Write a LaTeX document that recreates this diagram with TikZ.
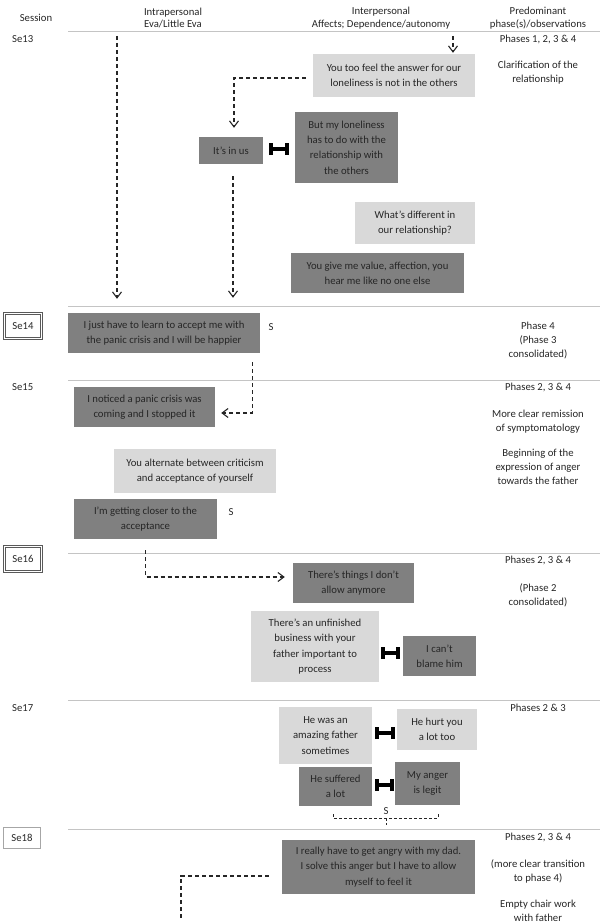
\documentclass[tikz,border=0pt]{standalone}
\usepackage{fontspec}
\setmainfont{Carlito}
\usetikzlibrary{arrows.meta,calc}
\definecolor{darkbox}{HTML}{808080}
\definecolor{lightbox}{HTML}{D9D9D9}
\definecolor{txt}{HTML}{262626}
\definecolor{rulec}{HTML}{C4C4C4}
\begin{document}
\begin{tikzpicture}[x=1pt,y=-1pt,
  every node/.style={font=\fontsize{10.7}{15.3}\selectfont, text=txt, inner sep=0pt},
  dbox/.style={fill=darkbox, align=center},
  lbox/.style={fill=lightbox, align=center},
  rcol/.style={align=center, anchor=north, font=\fontsize{10.7}{14}\selectfont},
  hdr/.style={align=center, font=\fontsize{10.7}{12.6}\selectfont},
  sessbox/.style={draw=black!65, double=white, double distance=1.3pt, line width=0.9pt, minimum width=37pt, minimum height=25pt},
  sessplain/.style={draw=black!35, line width=0.6pt, minimum width=37pt, minimum height=21pt},
  rowrule/.style={draw=rulec, line width=0.9pt},
  conn/.style={draw=txt, line width=1.1pt, dash pattern=on 4pt off 3pt},
  arr/.style={conn, -{Straight Barb[length=6pt,width=9pt]}},
  brk/.style={draw=txt, line width=0.7pt, dash pattern=on 3pt off 2pt},
  hbar/.style={draw=black, line width=4pt, {Bar[width=12pt]}-{Bar[width=12pt]}}
]
\useasboundingbox (0,0) rectangle (605,923);

% header
\node[hdr] (hsess) at (36,18) {Session};
\node[hdr] (hintra) at (173,18) {Intrapersonal\\Eva/Little Eva};
\node[hdr] (hinter) at (381,18) {Interpersonal\\Affects; Dependence/autonomy};
\node[hdr] (hphase) at (538,18) {Predominant\\phase(s)/observations};

% row rules
\coordinate (r0a) at (68,31.7); \coordinate (r0b) at (600,31.7);
\coordinate (r1a) at (68,306); \coordinate (r1b) at (600,306);
\coordinate (r2a) at (68,380); \coordinate (r2b) at (600,380);
\coordinate (r3a) at (68,553); \coordinate (r3b) at (600,553);
\coordinate (r4a) at (68,700); \coordinate (r4b) at (600,700);
\coordinate (r5a) at (68,829); \coordinate (r5b) at (600,829);
\draw[rowrule] (r0a) -- (r0b);
\draw[rowrule] (r1a) -- (r1b);
\draw[rowrule] (r2a) -- (r2b);
\draw[rowrule] (r3a) -- (r3b);
\draw[rowrule] (r4a) -- (r4b);
\draw[rowrule] (r5a) -- (r5b);

% session labels
\node[anchor=west] (se13) at (12,39.5) {Se13};
\node[sessbox] (se14) at (23,326) {Se14};
\node[anchor=west] (se15) at (12,387) {Se15};
\node[sessbox] (se16) at (23,559) {Se16};
\node[anchor=west] (se17) at (12,708) {Se17};
\node[sessplain] (se18) at (22,838) {Se18};

% right column
\node[rcol] (p13a) at (538,34.5) {Phases 1, 2, 3 \& 4};
\node[rcol] (p13b) at (538,60.5) {Clarification of the\\relationship};
\node[rcol] (p14a) at (538,321.5) {Phase 4\\(Phase 3\\consolidated)};
\node[rcol] (p15a) at (538,382.5) {Phases 2, 3 \& 4};
\node[rcol] (p15b) at (538,409.5) {More clear remission\\of symptomatology};
\node[rcol] (p15c) at (538,448.5) {Beginning of the\\expression of anger\\towards the father};
\node[rcol] (p16a) at (538,555.5) {Phases 2, 3 \& 4};
\node[rcol] (p16b) at (538,583.5) {(Phase 2\\consolidated)};
\node[rcol] (p17a) at (538,703.5) {Phases 2 \& 3};
\node[rcol] (p18a) at (538,832.5) {Phases 2, 3 \& 4};
\node[rcol] (p18b) at (538,859.5) {(more clear transition\\to phase 4)};
\node[rcol] (p18c) at (538,899.5) {Empty chair work\\with father};

% boxes
\node[lbox, minimum width=162pt, minimum height=43pt] (box1) at (394,75.5) {You too feel the answer for our\\loneliness is not in the others};
\node[dbox, minimum width=64pt, minimum height=27pt] (itsin) at (231,150.5) {It’s in us};
\node[dbox, minimum width=103pt, minimum height=71pt] (butmy) at (346.5,147.5) {But my loneliness\\has to do with the\\relationship with\\the others};
\node[lbox, minimum width=120pt, minimum height=42pt] (whatsdiff) at (415,223) {What’s different in\\our relationship?};
\node[dbox, minimum width=173pt, minimum height=40pt] (yougive) at (377.5,273) {You give me value, affection, you\\hear me like no one else};
\node[dbox, minimum width=192pt, minimum height=40pt] (ijust) at (164,333) {I just have to learn to accept me with\\the panic crisis and I will be happier};
\node[dbox, minimum width=141pt, minimum height=40pt] (inoticed) at (144.5,407) {I noticed a panic crisis was\\coming and I stopped it};
\node[lbox, minimum width=162pt, minimum height=44pt] (youalt) at (195,471) {You alternate between criticism\\and acceptance of yourself};
\node[dbox, minimum width=143pt, minimum height=40pt] (imgetting) at (145.5,519) {I’m getting closer to the\\acceptance};
\node[dbox, minimum width=121pt, minimum height=40pt] (theres) at (353.5,583) {There’s things I don’t\\allow anymore};
\node[lbox, minimum width=128pt, minimum height=71pt] (unfinished) at (315,646.5) {There’s an unfinished\\business with your\\father important to\\process};
\node[dbox, minimum width=73pt, minimum height=40pt] (icant) at (439.5,656) {I can’t\\blame him};
\node[lbox, minimum width=93pt, minimum height=57pt] (hewas) at (325.5,735.5) {He was an\\amazing father\\sometimes};
\node[lbox, minimum width=80pt, minimum height=41pt] (hehurt) at (437,729.5) {He hurt you\\a lot too};
\node[dbox, minimum width=73pt, minimum height=39pt] (hesuff) at (335.5,786.5) {He suffered\\a lot};
\node[dbox, minimum width=65pt, minimum height=43pt] (myanger) at (427.5,783.5) {My anger\\is legit};
\node[dbox, minimum width=193pt, minimum height=54pt] (ireally) at (378.5,867) {I really have to get angry with my dad.\\I solve this anger but I have to allow\\myself to feel it};

% S labels
\node (s14) at (271,327) {S};
\node (s15) at (231,512) {S};
\node (s17) at (386,811) {S};

% H connectors
\coordinate (h1) at ($(itsin.east)+(0,-1.5)$);
\draw[hbar, shorten <=6pt, shorten >=6pt] (h1) -- (h1 -| butmy.west);
\coordinate (h2) at ($(unfinished.east)+(0,6.5)$);
\draw[hbar, shorten <=2pt, shorten >=3pt] (h2) -- (h2 -| icant.west);
\coordinate (h3) at ($(hewas.east)+(0,-2.5)$);
\draw[hbar, shorten <=3pt, shorten >=2pt] (h3) -- (h3 -| hehurt.west);
\coordinate (h4) at ($(hesuff.east)+(0,-1.5)$);
\draw[hbar, shorten <=3pt, shorten >=1pt] (h4) -- (h4 -| myanger.west);

% dashed connectors
\coordinate (a0) at (117,36);
\draw[arr, shorten >=14pt] (a0) -- (a0 |- ijust.north);
\coordinate (b0) at (453,36);
\draw[arr, shorten >=1pt] (b0) -- (b0 |- box1.north);
\coordinate (c0) at ($(box1.west)+(0,2.5)$);
\coordinate (c1) at ($(itsin.north)+(3,0)$);
\draw[arr, shorten <=7pt, shorten >=9pt] (c0) -| (c1);
\coordinate (d0) at ($(itsin.south)+(2,0)$);
\draw[arr, shorten <=12pt, shorten >=15pt] (d0) -- (d0 |- ijust.north);
\coordinate (e0) at ($(ijust.south east)+(-8,0)$);
\coordinate (e1) at ($(inoticed.east)+(0,6)$);
\draw[arr, shorten <=9pt, shorten >=6pt] (e0) |- (e1);
\coordinate (f0) at (imgetting.south);
\coordinate (f1) at ($(theres.west)+(0,-6)$);
\draw[arr, shorten <=11pt, shorten >=8pt] (f0) |- (f1);

% bracket under Se17 pair
\coordinate (g0) at (333,818);
\coordinate (g1) at (438,818);
\coordinate (gm) at (386,818);
\draw[brk] ($(g0)+(0,-4)$) -- (g0) -- (g1) -- ($(g1)+(0,-4)$);
\draw[brk] (gm) -- ($(gm)+(0,7)$);

% Se18 connector
\coordinate (k0) at ($(ireally.west)+(0,9)$);
\coordinate (kend) at (181,921);
\draw[conn, shorten <=13pt] (k0) -| (kend);
\end{tikzpicture}
\end{document}
